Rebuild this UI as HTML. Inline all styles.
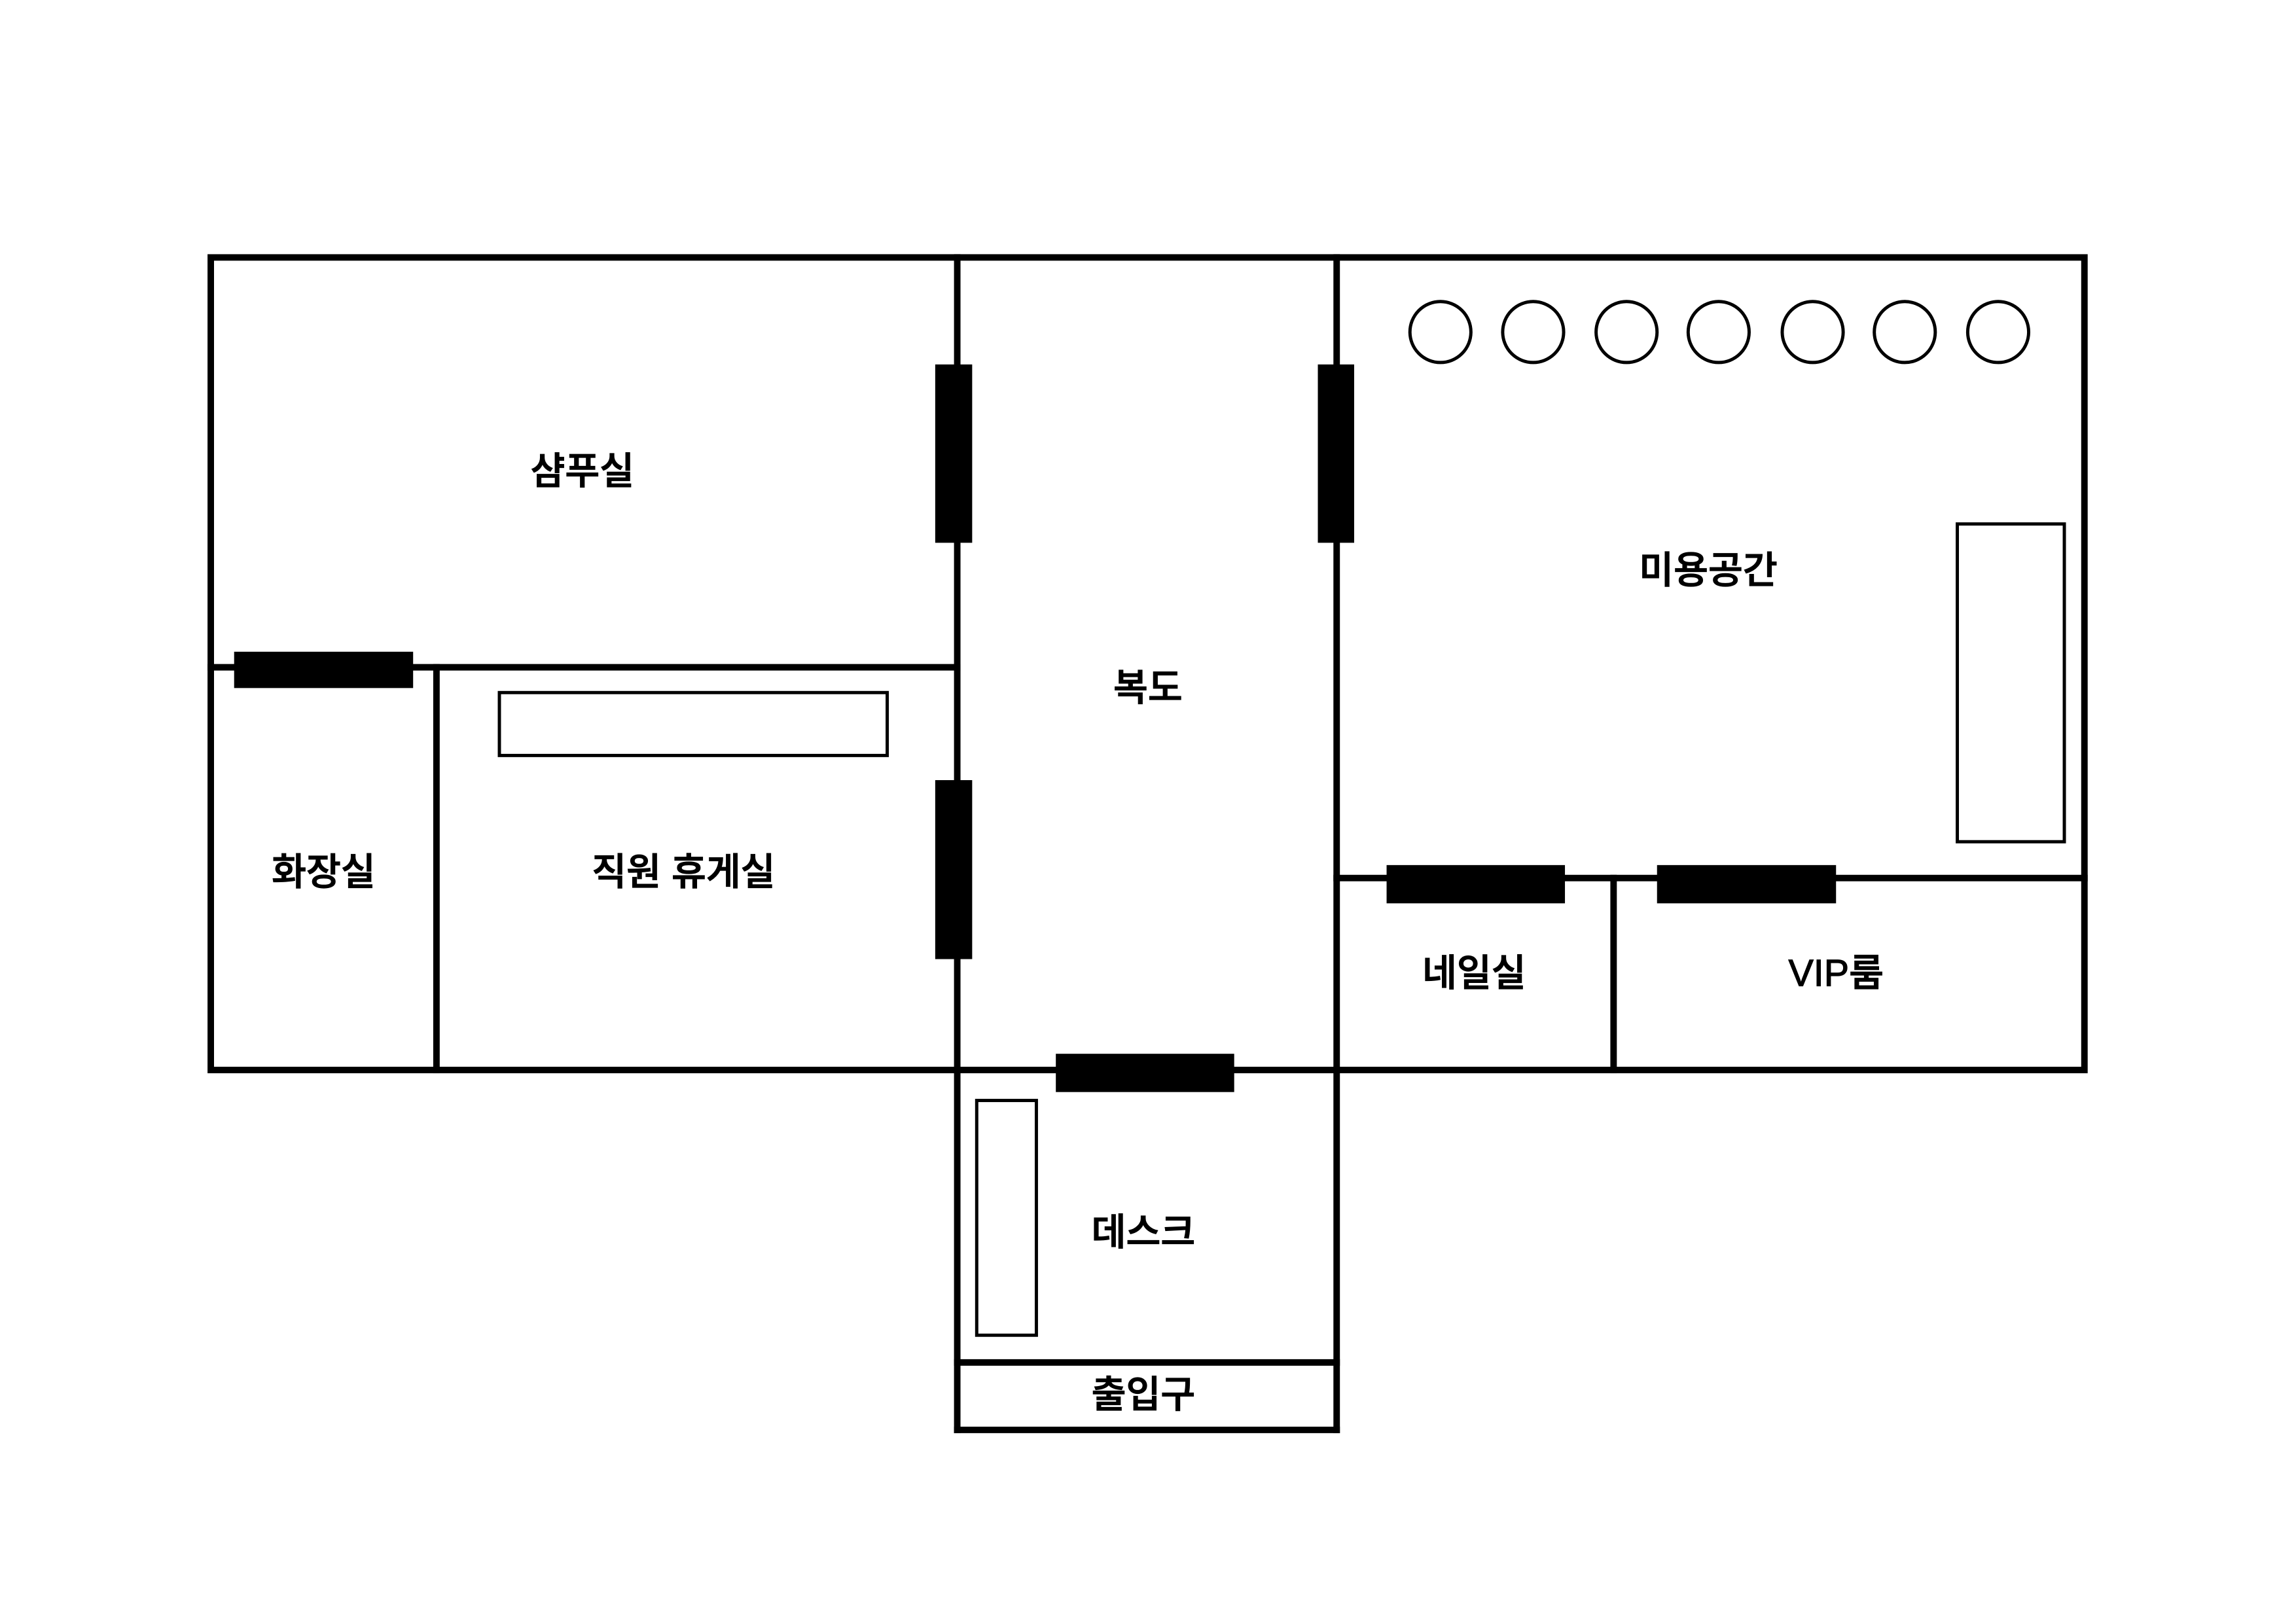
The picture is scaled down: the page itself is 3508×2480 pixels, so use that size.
<!DOCTYPE html>
<html><head><meta charset="utf-8"><style>html,body{margin:0;padding:0;background:#fff}svg{display:block}</style></head>
<body>
<svg width="3508" height="2480" viewBox="0 0 3508 2480" xmlns="http://www.w3.org/2000/svg">
<rect width="3508" height="2480" fill="#fff"/>
<g transform="scale(0.9909)">
<g stroke="#000" stroke-width="10" fill="none" stroke-linecap="square">
<rect x="325" y="397" width="2889" height="1253"/>
<line x1="1476" y1="397" x2="1476" y2="2205"/>
<line x1="2061" y1="397" x2="2061" y2="2205"/>
<line x1="325" y1="1029" x2="1476" y2="1029"/>
<line x1="673" y1="1029" x2="673" y2="1650"/>
<line x1="2061" y1="1354" x2="3214" y2="1354"/>
<line x1="2488" y1="1354" x2="2488" y2="1650"/>
<line x1="1476" y1="2101" x2="2061" y2="2101"/>
<line x1="1476" y1="2205" x2="2061" y2="2205"/>
</g>
<g fill="#000">
<rect x="1442" y="562" width="57" height="275"/>
<rect x="2032" y="562" width="56" height="275"/>
<rect x="1442" y="1203" width="57" height="276"/>
<rect x="361" y="1005" width="276" height="56"/>
<rect x="1628" y="1625" width="275" height="59"/>
<rect x="2138" y="1334" width="275" height="59"/>
<rect x="2555" y="1334" width="276" height="59"/>
</g>
<g stroke="#000" stroke-width="5" fill="none">
<rect x="770" y="1068" width="598" height="97"/>
<rect x="3018" y="808" width="165" height="490"/>
<rect x="1506" y="1697" width="92" height="362"/>
<circle cx="2221" cy="512" r="47"/>
<circle cx="2364" cy="512" r="47"/>
<circle cx="2508" cy="512" r="47"/>
<circle cx="2650" cy="512" r="47"/>
<circle cx="2795" cy="512" r="47"/>
<circle cx="2937" cy="512" r="47"/>
<circle cx="3081" cy="512" r="47"/>
</g>
<g font-family="'Liberation Sans','Noto Sans CJK KR',sans-serif" font-size="58" font-weight="500" text-anchor="middle" dominant-baseline="central" fill="#000" stroke="#000" stroke-width="1.2">
<text x="898" y="727">샴푸실</text>
<text x="499" y="1345">화장실</text>
<text x="1054" y="1345">직원 휴게실</text>
<text x="1770" y="1061">복도</text>
<text x="2634" y="880">미용공간</text>
<text x="2273" y="1501">네일실</text>
<text x="2831" y="1501">VIP룸</text>
<text x="1763" y="1901">데스크</text>
<text x="1763" y="2151">출입구</text>
</g>
</g>
</svg>
</body></html>
